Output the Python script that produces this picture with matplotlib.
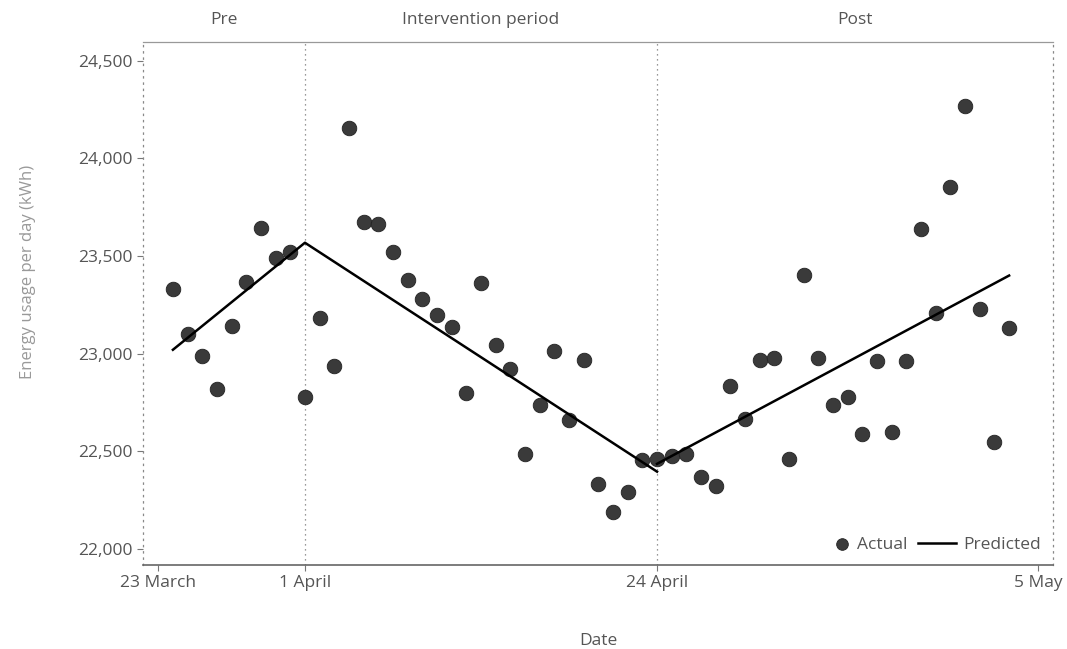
import matplotlib.pyplot as plt
from matplotlib.ticker import FuncFormatter
from matplotlib.collections import PathCollection
from matplotlib.legend_handler import HandlerPathCollection
import matplotlib.transforms as mtransforms

plt.rcParams['font.family'] = ['Open Sans', 'DejaVu Sans']

# day index (0 = 23 March on the axis) and actual daily energy use (kWh)
days = list(range(1, 59))
actual = [23330, 23100, 22990, 22820, 23140, 23365, 23645, 23490, 23520,
          22780, 23185, 22935, 24155, 23675, 23665, 23520, 23375, 23280,
          23200, 23135, 22800, 23360, 23045, 22920, 22485, 22735, 23015,
          22660, 22970, 22335, 22190, 22290, 22455, 22460, 22475, 22485,
          22370, 22325, 22835, 22665, 22970, 22980, 22460, 23405, 22980,
          22735, 22780, 22590, 22965, 22600, 22965, 23640, 23210, 23855,
          24270, 23230, 22550, 23130]

# predicted trend: pre + intervention segment, then post segment
pred_days_a = [1, 10, 34]
pred_vals_a = [23020, 23568, 22396]
pred_days_b = [34, 58]
pred_vals_b = [22436, 23400]

tick_pos = [0, 10, 34, 60]
tick_labels = ['23 March', '1 April', '24 April', '5 May']
breaks = [10, 34]
periods = ['Pre', 'Intervention period', 'Post']

xmin, xmax = -1.04, 61.0
text_col = '#555555'


class MarkerRight(HandlerPathCollection):
    # put the legend dot next to its label instead of mid-handle
    def get_xdata(self, legend, xdescent, ydescent, width, height, fontsize):
        xd, xm = super().get_xdata(legend, xdescent, ydescent, width, height, fontsize)
        return xd, [-xdescent + width - 0.45 * fontsize]


fig = plt.figure(figsize=(10.67, 6.49), dpi=100)
ax = fig.add_axes([0.134, 0.1294, 0.853, 0.806])

for b in breaks:
    ax.axvline(b, color='#777777', lw=0.9, ls=(0, (1, 3)), zorder=1)

ax.scatter(days, actual, s=110, color='#3a3a3a', edgecolors='#222222',
           linewidths=0.6, zorder=3, label='Actual')
ax.plot(pred_days_a, pred_vals_a, color='black', lw=1.8, zorder=4, label='Predicted')
ax.plot(pred_days_b, pred_vals_b, color='black', lw=1.8, zorder=4)

ax.set_xlim(xmin, xmax)
ax.set_ylim(21918, 24596)
ax.set_yticks([22000, 22500, 23000, 23500, 24000, 24500])
ax.yaxis.set_major_formatter(FuncFormatter(lambda v, p: f'{int(v):,}'))
ax.set_xticks(tick_pos)
ax.set_xticklabels(tick_labels)
ax.tick_params(axis='both', labelsize=12.5, colors='#777777', labelcolor=text_col, length=4)

ax.spines['bottom'].set_color('#666666')
ax.spines['bottom'].set_linewidth(1.2)
ax.spines['top'].set_color('#999999')
ax.spines['top'].set_linewidth(0.9)
for s in ['left', 'right']:
    ax.spines[s].set_color('#888888')
    ax.spines[s].set_linewidth(0.9)
    ax.spines[s].set_linestyle((0, (1, 4)))

ax.set_xlabel('Date', fontsize=12.5, color=text_col, labelpad=30)
ax.set_ylabel('Energy usage per day (kWh)', fontsize=12, color='#999999')
ax.yaxis.set_label_coords(-0.118, 0.56)

trans = mtransforms.blended_transform_factory(ax.transData, ax.transAxes)
edges = [xmin] + breaks + [xmax]
for i, name in enumerate(periods):
    ax.text((edges[i] + edges[i + 1]) / 2, 1.042, name, transform=trans,
            ha='center', va='center', fontsize=12.5, color=text_col)

ax.legend(loc='lower right', ncol=2, frameon=False, fontsize=12.5,
          handlelength=2.2, columnspacing=0.6, handletextpad=0.4,
          borderaxespad=0.3, labelcolor=text_col, markerscale=0.8,
          handler_map={PathCollection: MarkerRight()})

fig.savefig('out.png', dpi=100)
